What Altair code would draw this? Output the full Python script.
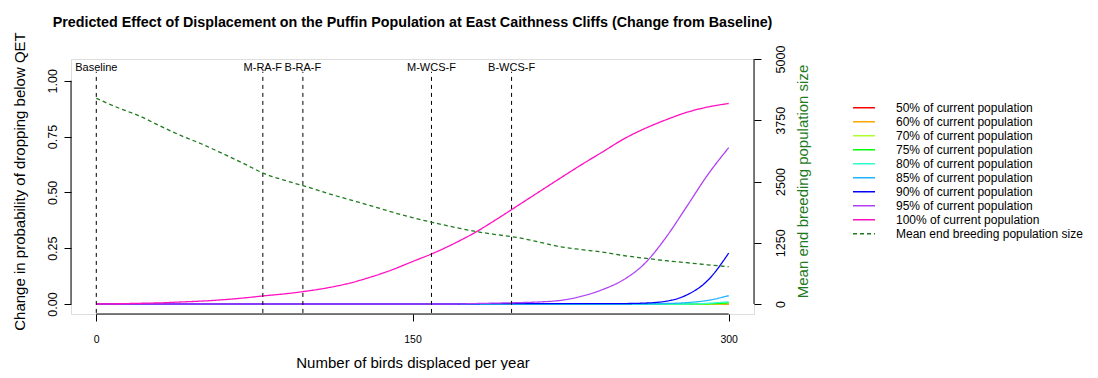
import altair as alt
import pandas as pd

# ---------------- data ----------------
x_grid = [0, 10, 20, 30, 40, 50, 60, 70, 80, 90, 100, 110, 120, 130, 140, 150,
          160, 170, 180, 190, 200, 210, 220, 230, 240, 250, 260, 270, 280, 290, 300]

p50 = [0.0] * 31
p60 = [0.0] * 31
p70 = [0.0] * 30 + [0.002]
p75 = [0.0] * 29 + [0.001, 0.005]
p80 = [0.0] * 29 + [0.003, 0.010]
p85 = [0.0] * 27 + [0.002, 0.006, 0.016, 0.037]
p90 = [0.0] * 18 + [0.001, 0.002, 0.002, 0.002, 0.002, 0.002, 0.002, 0.002,
                    0.004, 0.012, 0.040, 0.105, 0.228]
p95 = [0.0] * 18 + [0.002, 0.004, 0.006, 0.009, 0.016, 0.034, 0.064, 0.108,
                    0.180, 0.295, 0.435, 0.578, 0.700]
p100 = [0.0, 0.001, 0.003, 0.005, 0.009, 0.013, 0.019, 0.027, 0.037, 0.046,
        0.058, 0.073, 0.093, 0.120, 0.152, 0.190, 0.228, 0.272, 0.322, 0.380,
        0.441, 0.502, 0.563, 0.623, 0.680, 0.738, 0.785, 0.824, 0.858, 0.882, 0.898]
pop_mean = [4198, 4010, 3845, 3640, 3440, 3265, 3068, 2865, 2655, 2515,
            2390, 2255, 2130, 2008, 1880, 1762, 1660, 1565, 1480, 1415,
            1355, 1265, 1169, 1112, 1060, 990, 935, 885, 843, 800, 761]

series_names = ["50% of current population", "60% of current population",
                "70% of current population", "75% of current population",
                "80% of current population", "85% of current population",
                "90% of current population", "95% of current population",
                "100% of current population"]
series_values = [p50, p60, p70, p75, p80, p85, p90, p95, p100]
pop_name = "Mean end breeding population size"

series_colors = ["#FF0000", "#FFA500", "#ADFF2F", "#00FF00", "#33FFCC",
                 "#1EB4FF", "#0000FF", "#B040F5", "#FF10C0"]
pop_color = "#1F7A1F"

scen_names = ["Baseline", "M-RA-F", "B-RA-F", "M-WCS-F", "B-WCS-F"]
scen_pos = [0, 79, 98, 159, 197]

x_ticks = [0, 150, 300]
left_ticks = [0, 0.25, 0.5, 0.75, 1.0]
right_ticks = [0, 1250, 2500, 3750, 5000]

# ---------------- layout ----------------
W, H = 683, 255
FONT = "Liberation Sans"

all_names = series_names + [pop_name]
color_scale = alt.Scale(domain=all_names, range=series_colors + [pop_color])
dash_scale = alt.Scale(domain=all_names, range=[[1, 0]] * 9 + [[4, 3]])
legend = alt.Legend(orient="none", legendX=781, legendY=42, title=None,
                    symbolType="stroke", symbolSize=484, symbolStrokeWidth=1.5,
                    labelFontSize=12, labelOffset=20, labelColor="black",
                    labelLimit=400, rowPadding=0, clipHeight=13.7, labelFont=FONT)

x_scale = alt.Scale(domain=[-12, 312], nice=False, zero=False)
x_axis = alt.Axis(values=x_ticks, format="d", domain=False, grid=False,
                  tickSize=7, tickColor="black", labelFontSize=10.5,
                  labelColor="black", labelPadding=13, labelFont=FONT,
                  title="Number of birds displaced per year", titleFontSize=15,
                  titleFontWeight="normal", titleColor="black", titleY=53,
                  titleBaseline="alphabetic", titleFont=FONT)

yl_scale = alt.Scale(domain=[-0.0448, 1.0972], nice=False, zero=False)
yl_axis = alt.Axis(values=left_ticks, format=".2f", domain=False, grid=False,
                   tickSize=7, tickColor="black", labelAngle=270,
                   labelAlign="center", labelBaseline="alphabetic",
                   labelPadding=8, labelFontSize=12.5, labelColor="black", labelFont=FONT,
                   title="Change in probability of dropping below QET",
                   titleAngle=270, titleX=-52, titleY=122, titleAlign="center",
                   titleBaseline="middle", titleFontSize=15,
                   titleFontWeight="normal", titleColor="black", titleFont=FONT)

yr_scale = alt.Scale(domain=[-204, 5000], nice=False, zero=False)
yr_axis = alt.Axis(values=right_ticks, format="d", orient="right", domain=False,
                   grid=False, tickSize=7, tickColor="black", labelAngle=270,
                   labelAlign="center", labelBaseline="top", labelPadding=13,
                   labelFontSize=12.5, labelColor="black", labelFont=FONT,
                   title=pop_name, titleAngle=270, titleX=48, titleY=122,
                   titleAlign="center", titleBaseline="middle", titleFontSize=15,
                   titleFontWeight="normal", titleColor=pop_color, titleFont=FONT)

# ---------------- left (probability) layers ----------------
left_layers = []
for name, vals in zip(series_names, series_values):
    df = pd.DataFrame({"x": x_grid, "value": vals, "series": name})
    left_layers.append(
        alt.Chart(df).mark_line(strokeWidth=1.3, interpolate="monotone").encode(
            x=alt.X("x:Q", scale=x_scale, axis=x_axis),
            y=alt.Y("value:Q", scale=yl_scale, axis=yl_axis),
            color=alt.Color("series:N", scale=color_scale, legend=legend),
            strokeDash=alt.StrokeDash("series:N", scale=dash_scale, legend=legend),
        )
    )

scen_df = pd.DataFrame({"name": scen_names, "pos": scen_pos})
rules = alt.Chart(scen_df).mark_rule(color="black", strokeDash=[4, 4], strokeWidth=1).encode(
    x=alt.X("pos:Q", scale=x_scale, axis=x_axis),
    y=alt.YDatum(-0.04, scale=yl_scale, axis=yl_axis),
    y2=alt.Y2Datum(1.04),
)
labels = alt.Chart(scen_df).mark_text(fontSize=11, font=FONT, color="black",
                                      baseline="alphabetic", dy=-1).encode(
    x=alt.X("pos:Q", scale=x_scale, axis=x_axis),
    y=alt.YDatum(1.04, scale=yl_scale, axis=yl_axis),
    text="name:N",
)
one = alt.Data(values=[{}])
left_axis_line = alt.Chart(one).mark_rule(color="black", strokeWidth=1).encode(
    x=alt.value(0),
    y=alt.YDatum(0, scale=yl_scale, axis=yl_axis),
    y2=alt.Y2Datum(1),
)
x_axis_line = alt.Chart(one).mark_rule(color="black", strokeWidth=1).encode(
    x=alt.XDatum(0, scale=x_scale, axis=x_axis),
    x2=alt.X2Datum(300),
    y=alt.value(H),
)

left = alt.layer(*left_layers, rules, labels, left_axis_line, x_axis_line)

# ---------------- right (population) layers ----------------
pop_df = pd.DataFrame({"x": x_grid, "value": pop_mean, "series": pop_name})
pop_line = alt.Chart(pop_df).mark_line(strokeWidth=1.3, interpolate="monotone").encode(
    x=alt.X("x:Q", scale=x_scale, axis=x_axis),
    y=alt.Y("value:Q", scale=yr_scale, axis=yr_axis),
    color=alt.Color("series:N", scale=color_scale, legend=legend),
    strokeDash=alt.StrokeDash("series:N", scale=dash_scale, legend=legend),
)
right_axis_line = alt.Chart(one).mark_rule(color="black", strokeWidth=1).encode(
    x=alt.value(W),
    y=alt.YDatum(0, scale=yr_scale, axis=yr_axis),
    y2=alt.Y2Datum(5000),
)
right = alt.layer(pop_line, right_axis_line)

chart = alt.layer(left, right).resolve_scale(y="independent").properties(
    width=W, height=H,
    title=alt.TitleParams(
        "Predicted Effect of Displacement on the Puffin Population at East Caithness Cliffs (Change from Baseline)",
        fontSize=14.3, fontWeight="bold", font=FONT, color="black",
        anchor="middle", frame="group", baseline="alphabetic", offset=-9.5),
    autosize=alt.AutoSizeParams(type="none"),
    padding={"left": 63, "top": 51, "right": 336, "bottom": 56},
).configure_view(stroke=None).configure(background="white")

chart.save("out.html", embed_options={"renderer": "svg", "actions": False})
